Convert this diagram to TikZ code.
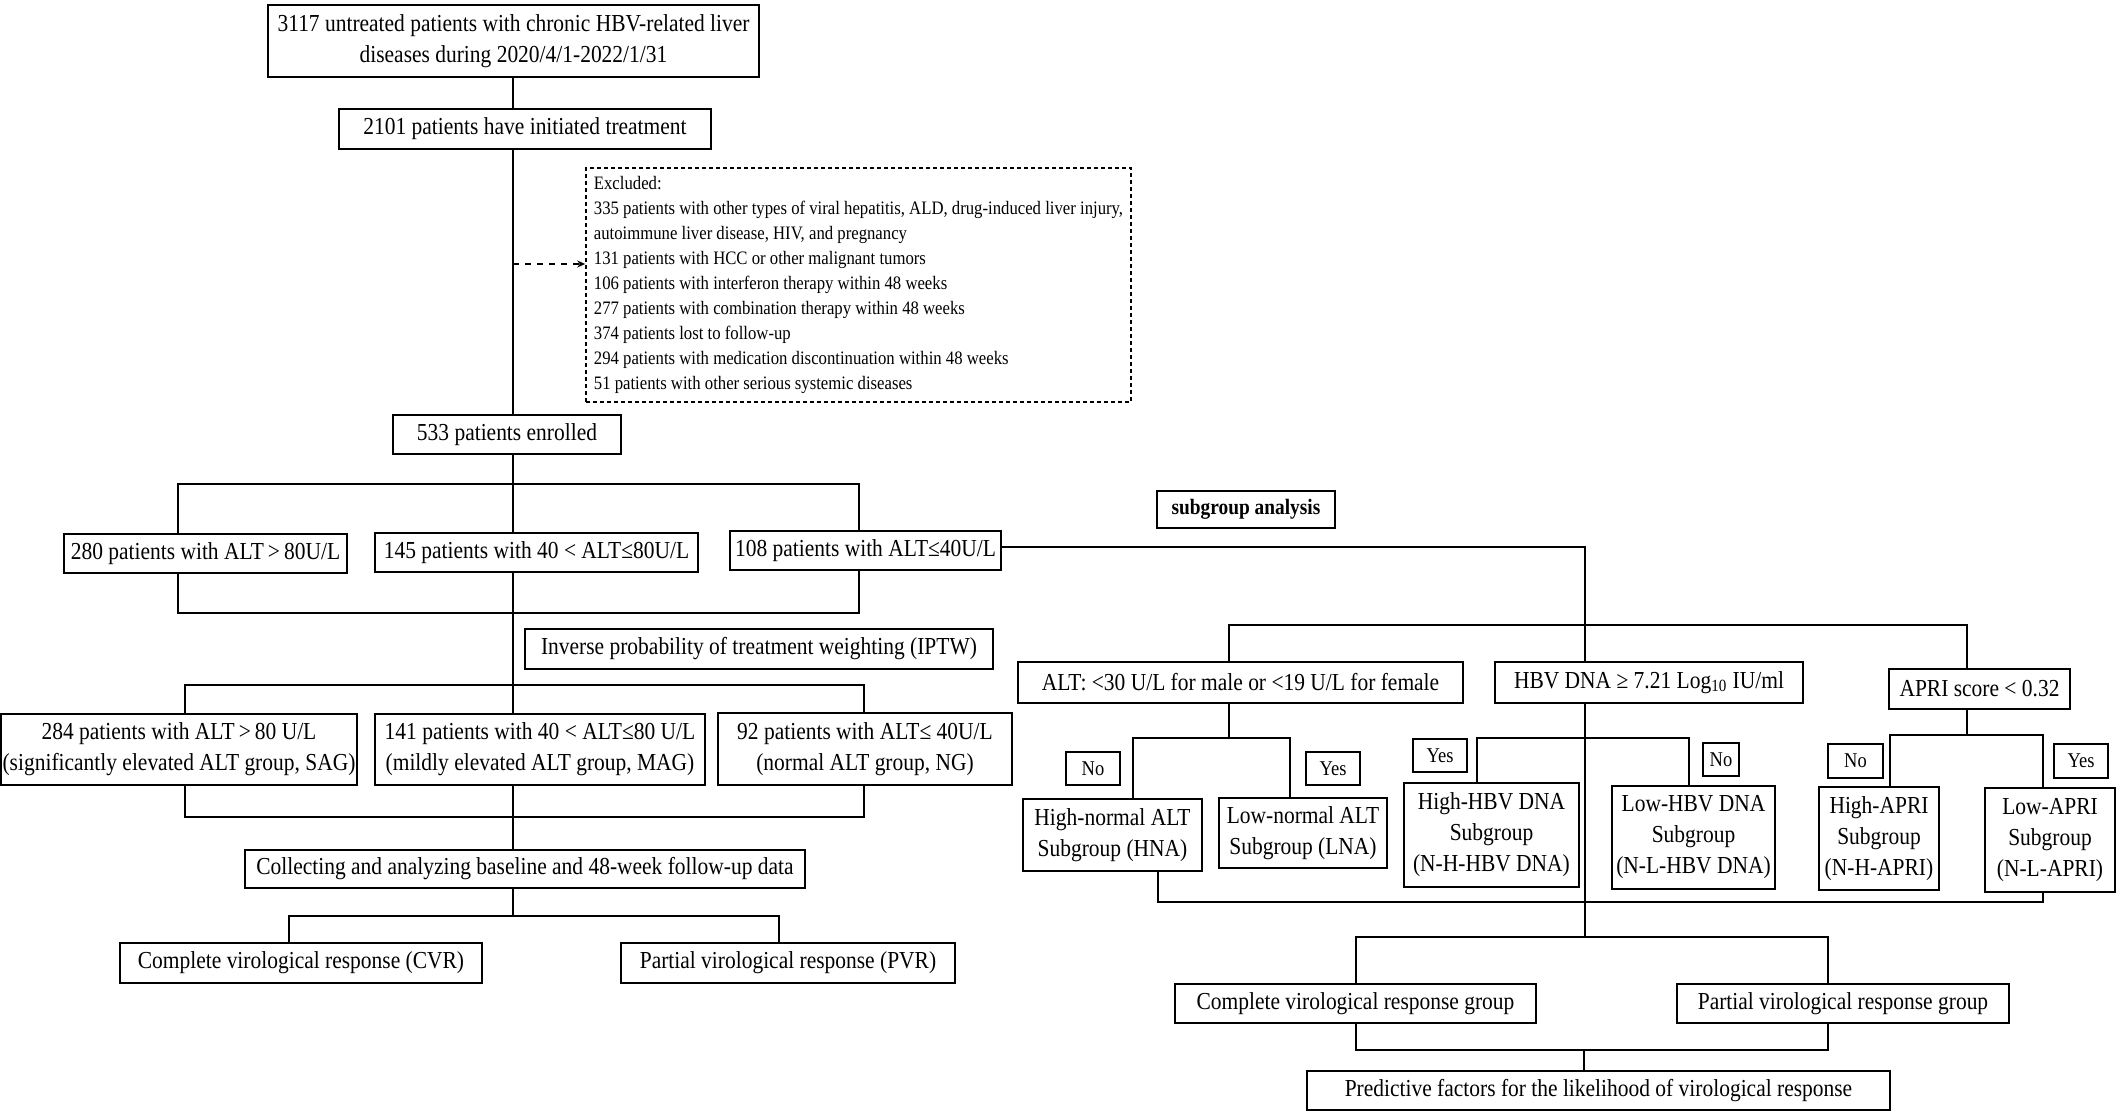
\documentclass[tikz,border=0pt]{standalone}
\usepackage{fontspec}
\setmainfont{Liberation Serif}[FakeStretch=0.88]
\usetikzlibrary{arrows.meta}
\begin{document}
\begin{tikzpicture}[x=0.5pt,y=-0.5pt,
  rect/.style n args={4}{minimum width={(#3-#1)*0.5pt}, minimum height={(#4-#2)*0.5pt}, at={({(#1+#3)/2},{(#2+#4)/2})}},
  box/.style={draw, line width=1.1pt, inner sep=0pt, align=center, font=\fontsize{12.2pt}{15.5pt}\selectfont},
  lab/.style={box, line width=1pt, font=\fontsize{10.5pt}{12pt}\selectfont},
  exbox/.style={draw, line width=0.8pt, dash pattern=on 2pt off 1.5pt, inner sep=0pt, align=left, font=\fontsize{9.5pt}{12.5pt}\selectfont},
  ln/.style={line width=0.8pt},
]
\useasboundingbox (0,0) rectangle (2117,1113);

% ---------------- left column ----------------
\node[box, rect={268}{5}{759}{77}] (t1) {3117 untreated patients with chronic HBV-related liver\\diseases during 2020/4/1-2022/1/31};
\node[box, rect={339}{109}{711}{149}] (t2) {2101 patients have initiated treatment};
\node[exbox, rect={586}{168}{1131}{402}] (exc) {Excluded:\\
335 patients with other types of viral hepatitis, ALD, drug-induced liver injury,\\
autoimmune liver disease, HIV, and pregnancy\\
131 patients with HCC or other malignant tumors\\
106 patients with interferon therapy within 48 weeks\\
277 patients with combination therapy within 48 weeks\\
374 patients lost to follow-up\\
294 patients with medication discontinuation within 48 weeks\\
51 patients with other serious systemic diseases};
\node[box, rect={393}{415}{621}{454}] (t3) {533 patients enrolled};
\node[box, rect={64}{534}{347}{573}] (A) {280 patients with ALT\,>\,80U/L};
\node[box, rect={375}{533}{698}{572}] (B) {145 patients with 40 < ALT≤80U/L};
\node[box, rect={730}{531}{1001}{570}] (C) {108 patients with ALT≤40U/L};
\node[box, rect={525}{629}{993}{669}] (iptw) {Inverse probability of treatment weighting (IPTW)};
\node[box, rect={1}{714}{357}{785}] (sag) {284 patients with ALT\,>\,80 U/L\\(significantly elevated ALT group, SAG)};
\node[box, rect={375}{714}{705}{785}] (mag) {141 patients with 40 < ALT≤80 U/L\\(mildly elevated ALT group, MAG)};
\node[box, rect={718}{713}{1012}{785}] (ng) {92 patients with ALT≤ 40U/L\\(normal ALT group, NG)};
\node[box, rect={245}{850}{805}{888}] (col) {Collecting and analyzing baseline and 48-week follow-up data};
\node[box, rect={120}{943}{482}{983}] (cvr) {Complete virological response (CVR)};
\node[box, rect={621}{943}{955}{983}] (pvr) {Partial virological response (PVR)};

% ---------------- right part ----------------
\node[box, rect={1157}{491}{1335}{528}, font=\bfseries\fontsize{11pt}{13pt}\selectfont] (sub) {subgroup analysis};
\node[box, rect={1018}{662}{1463}{703}] (alt) {ALT: <30 U/L for male or <19 U/L for female};
\node[box, rect={1495}{662}{1803}{703}] (hbv) {HBV DNA ≥ 7.21 Log\textsubscript{10} IU/ml};
\node[box, rect={1889}{669}{2070}{709}] (apri) {APRI score < 0.32};

\node[lab, rect={1066}{752}{1120}{785}] (no1) {No};
\node[lab, rect={1306}{752}{1360}{785}] (yes1) {Yes};
\node[lab, rect={1413}{739}{1467}{772}] (yes2) {Yes};
\node[lab, rect={1703}{743}{1739}{776}] (no2) {No};
\node[lab, rect={1828}{744}{1883}{778}] (no3) {No};
\node[lab, rect={2054}{744}{2108}{778}] (yes3) {Yes};

\node[box, rect={1023}{799}{1202}{871}] (hna) {High-normal ALT\\Subgroup (HNA)};
\node[box, rect={1219}{798}{1387}{868}] (lna) {Low-normal ALT\\Subgroup (LNA)};
\node[box, rect={1404}{783}{1579}{887}] (hh) {High-HBV DNA\\Subgroup\\(N-H-HBV DNA)};
\node[box, rect={1612}{786}{1775}{889}] (lh) {Low-HBV DNA\\Subgroup\\(N-L-HBV DNA)};
\node[box, rect={1819}{787}{1939}{890}] (ha) {High-APRI\\Subgroup\\(N-H-APRI)};
\node[box, rect={1985}{788}{2115}{892}] (la) {Low-APRI\\Subgroup\\(N-L-APRI)};

\node[box, rect={1175}{984}{1536}{1023}] (cg) {Complete virological response group};
\node[box, rect={1677}{984}{2009}{1023}] (pg) {Partial virological response group};
\node[box, rect={1307}{1071}{1890}{1110}] (pred) {Predictive factors for the likelihood of virological response};

% ---------------- coordinates ----------------
\coordinate (L) at (513,0);
\coordinate (ex) at (513,264);
\coordinate (b1a) at (178,484); \coordinate (b1c) at (859,484);
\coordinate (m1a) at (178,613); \coordinate (m1c) at (859,613);
\coordinate (b2a) at (185,685); \coordinate (b2c) at (864,685);
\coordinate (m2a) at (185,817); \coordinate (m2c) at (864,817);
\coordinate (b3m) at (513,916); \coordinate (b3a) at (289,916); \coordinate (b3c) at (779,916);

\coordinate (R) at (1585,547);
\coordinate (r1a) at (1229,625); \coordinate (r1c) at (1967,625);
\coordinate (sa0) at (1229,738); \coordinate (sa1) at (1133,738); \coordinate (sa2) at (1290,738);
\coordinate (sh1) at (1477,738); \coordinate (sh2) at (1689,738);
\coordinate (sp0) at (1967,735); \coordinate (sp1) at (1890,735); \coordinate (sp2) at (2043,735);
\coordinate (mg1) at (1158,902); \coordinate (mg2) at (2043,902);
\coordinate (r2m) at (1585,937); \coordinate (r2a) at (1356,937); \coordinate (r2c) at (1828,937);
\coordinate (r3a) at (1356,1050); \coordinate (r3c) at (1828,1050); \coordinate (r3m) at (1584,1050);

% ---------------- connectors left ----------------
\draw[ln] (t1.south -| L) -- (t2.north -| L);
\draw[ln] (t2.south -| L) -- (t3.north -| L);
\draw[ln, dashed, -{Stealth[length=4pt,width=3.5pt]}] (ex) -- (ex -| exc.west);
\draw[ln] (t3.south -| L) -- (B.north -| L);
\draw[ln] (A.north -| b1a) -- (b1a) -- (b1c) -- (C.north -| b1c);
\draw[ln] (A.south -| m1a) -- (m1a) -- (m1c) -- (C.south -| m1c);
\draw[ln] (B.south -| L) -- (mag.north -| L);
\draw[ln] (sag.north -| b2a) -- (b2a) -- (b2c) -- (ng.north -| b2c);
\draw[ln] (sag.south -| m2a) -- (m2a) -- (m2c) -- (ng.south -| m2c);
\draw[ln] (mag.south -| L) -- (col.north -| L);
\draw[ln] (col.south -| L) -- (b3m);
\draw[ln] (cvr.north -| b3a) -- (b3a) -- (b3c) -- (pvr.north -| b3c);

% ---------------- connectors right ----------------
\draw[ln] (C.east |- R) -- (R) -- (hbv.north -| R);
\draw[ln] (alt.north -| r1a) -- (r1a) -- (r1c) -- (apri.north -| r1c);
\draw[ln] (alt.south -| sa0) -- (sa0);
\draw[ln] (hna.north -| sa1) -- (sa1) -- (sa2) -- (lna.north -| sa2);
\draw[ln] (hh.north -| sh1) -- (sh1) -- (sh2) -- (lh.north -| sh2);
\draw[ln] (apri.south -| sp0) -- (sp0);
\draw[ln] (ha.north -| sp1) -- (sp1) -- (sp2) -- (la.north -| sp2);
\draw[ln] (hna.south -| mg1) -- (mg1) -- (mg2) -- (la.south -| mg2);
\draw[ln] (hbv.south -| R) -- (r2m);
\draw[ln] (cg.north -| r2a) -- (r2a) -- (r2c) -- (pg.north -| r2c);
\draw[ln] (cg.south -| r3a) -- (r3a) -- (r3c) -- (pg.south -| r3c);
\draw[ln] (r3m) -- (pred.north -| r3m);
\end{tikzpicture}
\end{document}
